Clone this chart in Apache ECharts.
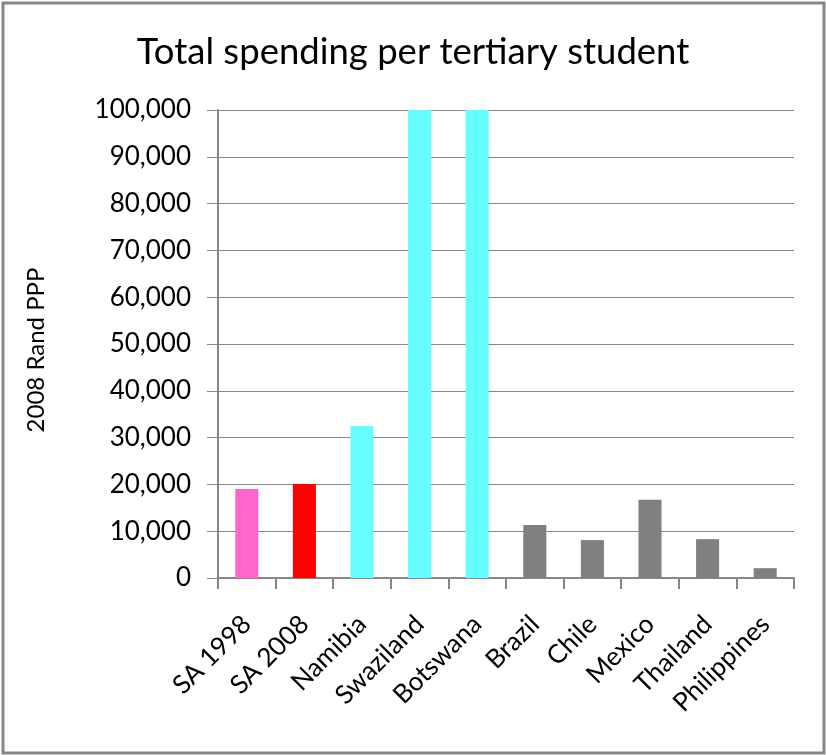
<!DOCTYPE html>
<html>
<head>
<meta charset="utf-8">
<script src="https://cdn.jsdelivr.net/npm/echarts@6/dist/echarts.min.js"></script>
<style>
  html, body { margin: 0; padding: 0; background: #fff; }
  #chart { width: 826px; height: 755px; }
</style>
</head>
<body>
<div id="chart"></div>
<script>
// Spending per tertiary student, 2008 Rand PPP
const categories = ['SA 1998', 'SA 2008', 'Namibia', 'Swaziland', 'Botswana',
                    'Brazil', 'Chile', 'Mexico', 'Thailand', 'Philippines'];
const spending = [19000, 20100, 32500, 100000, 100000, 11300, 8100, 16700, 8300, 2100];
const barColors = ['#FF66CC', '#FF0000', '#66FFFF', '#66FFFF', '#66FFFF',
                   '#808080', '#808080', '#808080', '#808080', '#808080'];
const yTicks = { min: 0, max: 100000, interval: 10000 };

const FONT = 'Lato';
const AXIS_GREY = '#878787';

const chart = echarts.init(document.getElementById('chart'), null, { renderer: 'canvas' });

chart.setOption({
  animation: false,
  backgroundColor: '#ffffff',
  title: {
    text: 'Total spending per tertiary student',
    left: 'center',
    top: 29,
    textStyle: { fontFamily: FONT, fontSize: 36.5, fontWeight: 'normal', color: '#000' }
  },
  graphic: [{
    type: 'rect',
    silent: true,
    shape: { x: 3, y: 3, width: 821, height: 750 },
    style: { fill: 'none', stroke: AXIS_GREY, lineWidth: 3 }
  }],
  grid: { left: 218, right: 32, top: 110, bottom: 177 },
  xAxis: {
    type: 'category',
    data: categories,
    axisLine: { lineStyle: { color: AXIS_GREY, width: 2 } },
    axisTick: { show: true, length: 11, alignWithLabel: false, lineStyle: { color: AXIS_GREY, width: 2 } },
    axisLabel: {
      rotate: 45,
      interval: 0,
      margin: 42,
      fontFamily: FONT,
      fontSize: 26,
      color: '#000'
    }
  },
  yAxis: {
    type: 'value',
    min: yTicks.min,
    max: yTicks.max,
    interval: yTicks.interval,
    name: '2008 Rand PPP',
    nameLocation: 'middle',
    nameGap: 170,
    nameRotate: 90,
    nameTextStyle: { fontFamily: FONT, fontSize: 24, color: '#000', padding: [0, 12, 0, 0] },
    axisLine: { show: true, lineStyle: { color: AXIS_GREY, width: 2 } },
    axisTick: { show: true, length: 11, lineStyle: { color: AXIS_GREY, width: 1 } },
    splitLine: { show: true, lineStyle: { color: AXIS_GREY, width: 1 } },
    axisLabel: {
      margin: 27,
      fontFamily: FONT,
      fontSize: 26,
      color: '#000',
      formatter: v => v.toLocaleString('en-US')
    }
  },
  series: [{
    type: 'bar',
    data: spending.map((v, i) => ({ value: v, itemStyle: { color: barColors[i] } })),
    barWidth: '40%',
    clip: true
  }]
});
</script>
</body>
</html>
